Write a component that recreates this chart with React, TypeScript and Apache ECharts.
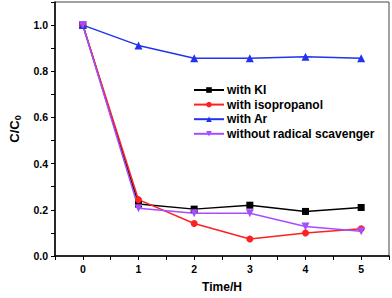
import React, { useEffect, useRef } from "react";
import * as echarts from "echarts";

const times = [0, 1, 2, 3, 4, 5];
const seriesNames = ["with KI", "with isopropanol", "with Ar", "without radical scavenger"];
const withKI = [1.0, 0.225, 0.203, 0.22, 0.193, 0.21];
const withIsopropanol = [1.0, 0.244, 0.141, 0.074, 0.1, 0.118];
const withAr = [1.0, 0.912, 0.856, 0.856, 0.863, 0.856];
const withoutScavenger = [1.0, 0.207, 0.185, 0.185, 0.128, 0.107];

const FONT = "Arial, 'Liberation Sans', Helvetica, sans-serif";

export default function App() {
  const ref = useRef<HTMLDivElement>(null);
  useEffect(() => {
    if (!ref.current) return;
    const chart = echarts.init(ref.current, undefined, { renderer: "svg" });
    const pair = (ys: number[]) => times.map((t, i) => [t, ys[i]]);
    const mk = (name: string, ys: number[], color: string, symbol: string, size: number, rotate = 0) => ({
      name,
      type: "line",
      data: pair(ys),
      symbol,
      symbolSize: size,
      symbolRotate: rotate,
      showAllSymbol: true,
      lineStyle: { color, width: 1.5 },
      itemStyle: { color },
      z: 3,
    });
    chart.setOption({
      animation: false,
      backgroundColor: "#fff",
      textStyle: { fontFamily: FONT },
      grid: {
        left: 43,
        right: 3,
        top: 2,
        bottom: 39,
        show: true,
        borderColor: "#444",
        borderWidth: 1,
      },
      legend: {
        left: 188,
        top: 79,
        orient: "vertical",
        itemWidth: 30,
        itemHeight: 7,
        itemGap: 2.6,
        data: seriesNames,
        textStyle: {
          fontFamily: FONT,
          fontSize: 12,
          fontWeight: "bold",
          color: "#000",
          lineHeight: 12,
          padding: [0, 0, 0, -2],
        },
      },
      xAxis: {
        type: "value",
        min: -0.5,
        max: 5.5,
        interval: 0.5,
        name: "Time/H",
        nameLocation: "middle",
        nameGap: 25,
        nameTextStyle: { fontFamily: FONT, fontSize: 12, fontWeight: "bold", color: "#000" },
        axisLine: { show: true, onZero: false, lineStyle: { color: "#000", width: 1.5 } },
        axisTick: { show: true, inside: false, length: 4, lineStyle: { color: "#000", width: 1 } },
        axisLabel: {
          margin: 7,
          fontFamily: FONT,
          fontSize: 10.5,
          fontWeight: "bold",
          color: "#000",
          showMinLabel: true,
          showMaxLabel: true,
          formatter: (v: number) => (Number.isInteger(v) ? String(v) : ""),
        },
        splitLine: { show: false },
      },
      yAxis: {
        type: "value",
        min: 0,
        max: 1.1,
        interval: 0.1,
        name: "{a|C/C}{b|0}",
        nameLocation: "middle",
        nameGap: 30,
        nameTextStyle: {
          fontFamily: FONT,
          color: "#000",
          rich: {
            a: { fontFamily: FONT, fontSize: 13, fontWeight: "bold", color: "#000" },
            b: { fontFamily: FONT, fontSize: 9, fontWeight: "bold", color: "#000", padding: [7, 0, 0, 0] },
          },
        },
        axisLine: { show: true, onZero: false, lineStyle: { color: "#000", width: 1.5 } },
        axisTick: { show: true, inside: false, length: 4, lineStyle: { color: "#000", width: 1 } },
        axisLabel: {
          margin: 7,
          fontFamily: FONT,
          fontSize: 10.5,
          fontWeight: "bold",
          color: "#000",
          formatter: (v: number) => (Math.round(v * 10) % 2 === 0 && v < 1.05 ? v.toFixed(1) : ""),
        },
        splitLine: { show: false },
      },
      series: [
        mk(seriesNames[0], withKI, "#000000", "rect", 7),
        mk(seriesNames[1], withIsopropanol, "#ff2020", "circle", 7),
        mk(seriesNames[2], withAr, "#2233ee", "triangle", 8),
        mk(seriesNames[3], withoutScavenger, "#a64dff", "triangle", 8, 180),
      ],
    });
    return () => chart.dispose();
  }, []);
  return (
    <div
      ref={ref}
      style={{ position: "fixed", left: 0, top: 0, width: 392, height: 298, background: "#fff" }}
    />
  );
}
